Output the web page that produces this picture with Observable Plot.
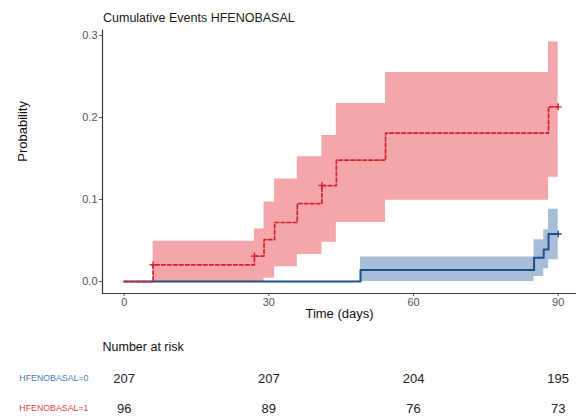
<!DOCTYPE html>
<html>
<head>
<meta charset="utf-8">
<script src="https://cdn.jsdelivr.net/npm/d3@7"></script>
<script src="https://cdn.jsdelivr.net/npm/@observablehq/plot@0.6"></script>
<style>
  body { margin: 0; background: #fff; font-family: "Liberation Sans", Arial, sans-serif; }
  #wrap { position: relative; width: 576px; height: 418px; }
  #title { position: absolute; left: 103px; top: 11px; font-size: 12.5px; color: #1a1a1a; white-space: nowrap; }
  svg { display: block; }
</style>
</head>
<body>
<div id="wrap">
  <div id="title">Cumulative Events HFENOBASAL</div>
  <div id="chart"></div>
  <div id="risk"></div>
</div>
<script>
// Axis settings
const xDomain = [-4.5, 93.8];
const yDomain = [-0.0146, 0.3067];
const xTicks = [0, 30, 60, 90];
const yTicks = [0, 0.1, 0.2, 0.3];

const groups = ["HFENOBASAL=0", "HFENOBASAL=1"];
const lineColors = ["#1d4f8f", "#d6232d"];
const bandColors = ["#a6bed8", "#f5a6ab"];
const labelColors = ["#4f7db3", "#e0454d"];

// Cumulative incidence, HFENOBASAL=0
const time0 = [0, 49, 85, 87, 88, 90];
const prob0 = [0, 0.014, 0.029, 0.039, 0.058, 0.058];
const ciTime0 = [49, 85, 87, 88, 90];
const lower0 = [0, 0.006, 0.0155, 0.0265, 0.0265];
const upper0 = [0.030, 0.051, 0.063, 0.088, 0.088];
const censorTime0 = [90];
const censorProb0 = [0.058];

// Cumulative incidence, HFENOBASAL=1
const time1 = [0, 6, 27, 29, 31.2, 35.9, 41, 44, 54.2, 88, 90];
const prob1 = [0, 0.0204, 0.031, 0.051, 0.072, 0.095, 0.117, 0.148, 0.181, 0.213, 0.213];
const ciTime1 = [6, 27, 29, 31.2, 35.9, 41, 44, 54.2, 88, 90];
const lower1 = [0, 0, 0.004, 0.018, 0.033, 0.048, 0.072, 0.099, 0.127, 0.127];
const upper1 = [0.049, 0.064, 0.097, 0.125, 0.152, 0.178, 0.217, 0.255, 0.292, 0.292];
const censorTime1 = [6, 27, 41, 90];
const censorProb1 = [0.0204, 0.031, 0.117, 0.213];

// Number at risk
const riskTimes = [0, 30, 60, 90];
const risk0 = [207, 207, 204, 195];
const risk1 = [96, 89, 76, 73];

const curve = (t, p) => t.map((d, i) => ({t: d, p: p[i]}));
const band = (t, lo, hi) => t.map((d, i) => ({t: d, lo: lo[i], hi: hi[i]}));

const curve0 = curve(time0, prob0), curve1 = curve(time1, prob1);
const band0 = band(ciTime0, lower0, upper0), band1 = band(ciTime1, lower1, upper1);
const cens0 = curve(censorTime0, censorProb0), cens1 = curve(censorTime1, censorProb1);

const font = "Liberation Sans, Arial, sans-serif";

const main = Plot.plot({
  width: 576,
  height: 325,
  marginLeft: 102,
  marginRight: 0,
  marginTop: 29.5,
  marginBottom: 32,
  style: {fontFamily: font, background: "transparent"},
  x: {domain: xDomain, axis: null},
  y: {domain: yDomain, axis: null},
  marks: [
    Plot.areaY(band1, {x: "t", y1: "lo", y2: "hi", curve: "step-after", fill: bandColors[1]}),
    Plot.areaY(band0, {x: "t", y1: "lo", y2: "hi", curve: "step-after", fill: bandColors[0]}),
    Plot.ruleX([xDomain[0]], {stroke: "#3a3a3a", strokeWidth: 1.2}),
    Plot.ruleY([yDomain[0]], {stroke: "#3a3a3a", strokeWidth: 1.2}),
    Plot.axisY({ticks: yTicks, tickFormat: d3.format(".1f"), tickSize: 3, tickPadding: 2,
                fontSize: 11, color: "#555", label: null}),
    Plot.axisX({ticks: xTicks, tickSize: 3, tickPadding: 2, fontSize: 11, color: "#555", label: null}),
    Plot.line(curve0, {x: "t", y: "p", curve: "step-after", stroke: lineColors[0], strokeWidth: 2}),
    Plot.line(curve1, {x: "t", y: "p", curve: "step-after", stroke: lineColors[1], strokeWidth: 1.7,
                       strokeDasharray: "3.7,2.3"}),
    Plot.dot(cens0, {x: "t", y: "p", symbol: "plus", r: 2.4, stroke: lineColors[0], strokeWidth: 1.4}),
    Plot.dot(cens1, {x: "t", y: "p", symbol: "plus", r: 2.4, stroke: lineColors[1], strokeWidth: 1.4}),
    Plot.text(["Time (days)"], {frameAnchor: "bottom", dy: 24, fontSize: 13, fill: "#111"}),
    Plot.text(["Probability"], {frameAnchor: "left", dx: -80, rotate: -90, fontSize: 13, fill: "#111"})
  ]
});
document.getElementById("chart").append(main);

const riskRows = [
  ...riskTimes.map((t, i) => ({t, group: groups[0], n: risk0[i]})),
  ...riskTimes.map((t, i) => ({t, group: groups[1], n: risk1[i]}))
];

const risk = Plot.plot({
  width: 576,
  height: 93,
  marginLeft: 102,
  marginRight: 0,
  marginTop: 0,
  marginBottom: 0,
  style: {fontFamily: font, background: "transparent"},
  x: {domain: xDomain, axis: null},
  y: {type: "point", domain: groups, range: [53, 83], padding: 0, axis: null},
  color: {type: "ordinal", domain: groups, range: labelColors},
  marks: [
    Plot.text(["Number at risk"], {frameAnchor: "top-left", dy: 17, textAnchor: "start", fontSize: 12.5, fill: "#111"}),
    Plot.text(groups, {y: d => d, frameAnchor: "left", textAnchor: "end", dx: -14, fontSize: 8.8, fill: d => d}),
    Plot.text(riskRows, {x: "t", y: "group", text: "n", fontSize: 13, fill: "#222"})
  ]
});
document.getElementById("risk").append(risk);
</script>
</body>
</html>
